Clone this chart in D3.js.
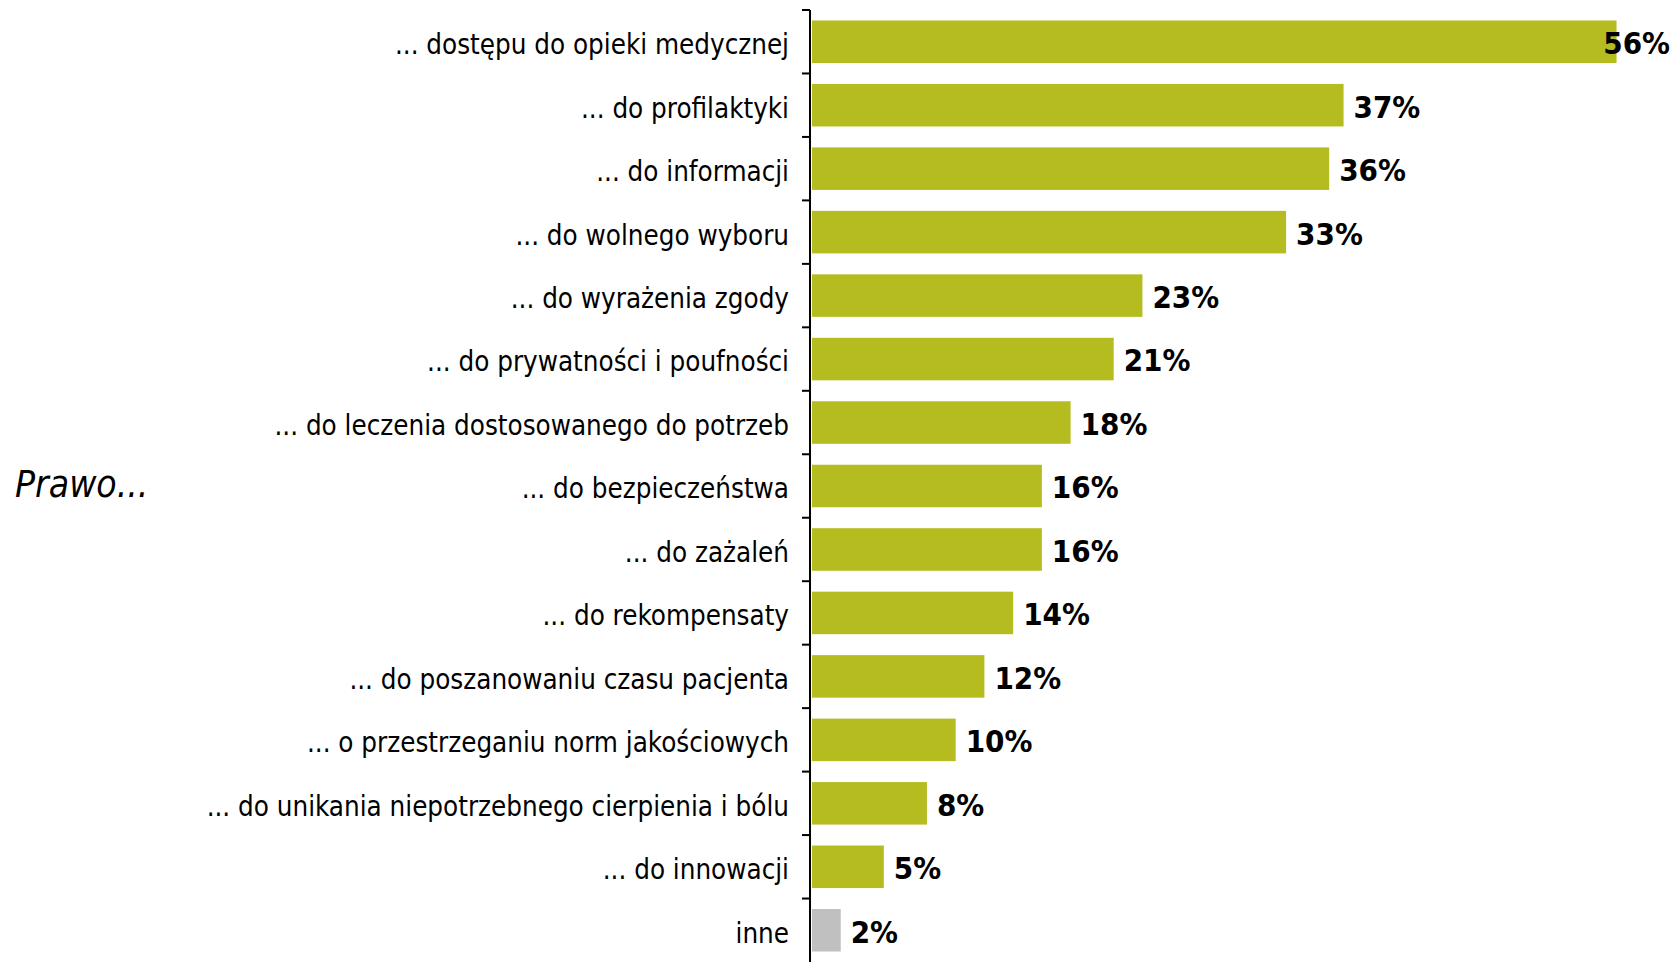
<!DOCTYPE html>
<html>
<head>
<meta charset="utf-8">
<script src="https://cdn.jsdelivr.net/npm/d3@7"></script>
<style>
  html, body { margin: 0; padding: 0; background: #fff; }
  svg { display: block; }
</style>
</head>
<body>
<svg id="chart"></svg>
<script>
// categories (top to bottom) and their shares in %
const categories = [
  '... dostępu do opieki medycznej',
  '... do profilaktyki',
  '... do informacji',
  '... do wolnego wyboru',
  '... do wyrażenia zgody',
  '... do prywatności i poufności',
  '... do leczenia dostosowanego do potrzeb',
  '... do bezpieczeństwa',
  '... do zażaleń',
  '... do rekompensaty',
  '... do poszanowaniu czasu pacjenta',
  '... o przestrzeganiu norm jakościowych',
  '... do unikania niepotrzebnego cierpienia i bólu',
  '... do innowacji',
  'inne'
];
const values = [56, 37, 36, 33, 23, 21, 18, 16, 16, 14, 12, 10, 8, 5, 2];
const axisTitle = 'Prawo...';

const W = 1678, H = 962;
const svg = d3.select('#chart').attr('width', W).attr('height', H);
const font = '"DejaVu Sans Condensed", "DejaVu Sans", sans-serif';

const data = categories.map((c, i) => ({ label: c, value: values[i] }));

const x = d3.scaleLinear().domain([0, 60]).range([812, 1674]);
const y = d3.scaleBand()
    .domain(categories)
    .range([10, 962])
    .paddingInner(0.33)
    .paddingOuter(0.165);

// bars
svg.append('g')
  .selectAll('rect')
  .data(data)
  .join('rect')
    .attr('x', x(0))
    .attr('y', d => y(d.label))
    .attr('width', d => x(d.value) - x(0))
    .attr('height', y.bandwidth())
    .attr('fill', d => d.label === 'inne' ? '#c0c0c0' : '#b4bc1f');

// axis line + ticks between categories
const axisX = 810;
const g = svg.append('g');
g.append('line')
    .attr('x1', axisX).attr('x2', axisX)
    .attr('y1', 10).attr('y2', H)
    .attr('stroke', '#000').attr('stroke-width', 2);
const step = y.step();
const tickYs = d3.range(categories.length).map(i => y(categories[i]) - (step - y.bandwidth()) / 2);
g.selectAll('.tick')
  .data(tickYs)
  .join('line')
    .attr('x1', axisX - 8).attr('x2', axisX)
    .attr('y1', d => d).attr('y2', d => d)
    .attr('stroke', '#000').attr('stroke-width', 2);

// category labels
svg.append('g')
  .selectAll('text')
  .data(data)
  .join('text')
    .attr('x', 789)
    .attr('y', d => y(d.label) + y.bandwidth() / 2)
    .attr('dy', '0.45em')
    .attr('text-anchor', 'end')
    .style('font-family', font)
    .style('font-size', '27.5px')
    .attr('fill', '#000')
    .text(d => d.label);

// value labels, pulled back inside when they would run past the edge
svg.append('g')
  .selectAll('text')
  .data(data)
  .join('text')
    .attr('y', d => y(d.label) + y.bandwidth() / 2)
    .attr('dy', '0.4em')
    .style('font-family', font)
    .style('font-size', '31px')
    .style('font-weight', 'bold')
    .attr('fill', '#000')
    .text(d => d.value + '%')
    .each(function(d) {
      const w = this.getComputedTextLength();
      let tx = x(d.value) + 10;
      if (tx + w > W - 8) tx = W - 8 - w;
      d3.select(this).attr('x', tx);
    });

// axis title
svg.append('text')
    .attr('x', 15)
    .attr('y', 484)
    .attr('dy', '0.35em')
    .style('font-family', font)
    .style('font-size', '37px')
    .style('font-style', 'italic')
    .text(axisTitle);
</script>
</body>
</html>
